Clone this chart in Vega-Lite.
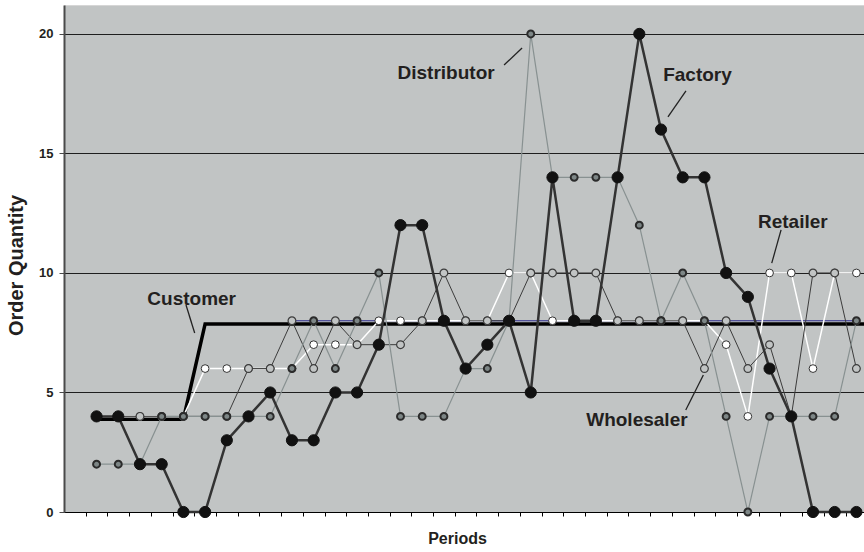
{
  "$schema": "https://vega.github.io/schema/vega-lite/v6.json",
  "width": 800,
  "height": 507,
  "autosize": {"type": "none"},
  "padding": {"left": 64, "top": 5, "right": 0, "bottom": 40},
  "background": "#ffffff",
  "config": {
    "view": {"fill": "#c1c4c4", "stroke": "#d6d6d6", "strokeWidth": 1},
    "font": "Liberation Sans"
  },
  "datasets": {
    "labels": [
      {"p": 5.38, "v": 8.9, "text": "Customer"},
      {"p": 17.1, "v": 18.37, "text": "Distributor"},
      {"p": 28.68, "v": 18.28, "text": "Factory"},
      {"p": 33.07, "v": 12.15, "text": "Retailer"},
      {"p": 25.89, "v": 3.85, "text": "Wholesaler"}
    ],
    "leaders": [
      {"p": 5.12, "v": 8.66, "p2": 5.52, "v2": 7.49},
      {"p": 19.77, "v": 18.7, "p2": 20.6, "v2": 19.41},
      {"p": 28.15, "v": 17.62, "p2": 27.32, "v2": 16.53},
      {"p": 32.53, "v": 11.8, "p2": 32.1, "v2": 10.41},
      {"p": 28.14, "v": 4.27, "p2": 28.95, "v2": 5.73}
    ]
  },
  "data": {
    "values": [
      {"p": 10, "s": "Ref", "v": 8}, {"p": 36, "s": "Ref", "v": 8},
      {"p": 1, "s": "Customer", "v": 3.88}, {"p": 2, "s": "Customer", "v": 3.88}, {"p": 3, "s": "Customer", "v": 3.88}, {"p": 4, "s": "Customer", "v": 3.88}, {"p": 5, "s": "Customer", "v": 3.88},
      {"p": 6, "s": "Customer", "v": 7.87}, {"p": 7, "s": "Customer", "v": 7.87}, {"p": 8, "s": "Customer", "v": 7.87}, {"p": 9, "s": "Customer", "v": 7.87}, {"p": 10, "s": "Customer", "v": 7.87},
      {"p": 11, "s": "Customer", "v": 7.87}, {"p": 12, "s": "Customer", "v": 7.87}, {"p": 13, "s": "Customer", "v": 7.87}, {"p": 14, "s": "Customer", "v": 7.87}, {"p": 15, "s": "Customer", "v": 7.87},
      {"p": 16, "s": "Customer", "v": 7.87}, {"p": 17, "s": "Customer", "v": 7.87}, {"p": 18, "s": "Customer", "v": 7.87}, {"p": 19, "s": "Customer", "v": 7.87}, {"p": 20, "s": "Customer", "v": 7.87},
      {"p": 21, "s": "Customer", "v": 7.87}, {"p": 22, "s": "Customer", "v": 7.87}, {"p": 23, "s": "Customer", "v": 7.87}, {"p": 24, "s": "Customer", "v": 7.87}, {"p": 25, "s": "Customer", "v": 7.87},
      {"p": 26, "s": "Customer", "v": 7.87}, {"p": 27, "s": "Customer", "v": 7.87}, {"p": 28, "s": "Customer", "v": 7.87}, {"p": 29, "s": "Customer", "v": 7.87}, {"p": 30, "s": "Customer", "v": 7.87},
      {"p": 31, "s": "Customer", "v": 7.87}, {"p": 32, "s": "Customer", "v": 7.87}, {"p": 33, "s": "Customer", "v": 7.87}, {"p": 34, "s": "Customer", "v": 7.87}, {"p": 35, "s": "Customer", "v": 7.87},
      {"p": 36, "s": "Customer", "v": 7.87}, {"p": 37, "s": "Customer", "v": 7.87},

      {"p": 1, "s": "Retailer", "v": 4}, {"p": 2, "s": "Retailer", "v": 4}, {"p": 3, "s": "Retailer", "v": 4}, {"p": 4, "s": "Retailer", "v": 4}, {"p": 5, "s": "Retailer", "v": 4},
      {"p": 6, "s": "Retailer", "v": 6}, {"p": 7, "s": "Retailer", "v": 6}, {"p": 8, "s": "Retailer", "v": 6}, {"p": 9, "s": "Retailer", "v": 6}, {"p": 10, "s": "Retailer", "v": 6},
      {"p": 11, "s": "Retailer", "v": 7}, {"p": 12, "s": "Retailer", "v": 7}, {"p": 13, "s": "Retailer", "v": 7}, {"p": 14, "s": "Retailer", "v": 8}, {"p": 15, "s": "Retailer", "v": 8},
      {"p": 16, "s": "Retailer", "v": 8}, {"p": 17, "s": "Retailer", "v": 8}, {"p": 18, "s": "Retailer", "v": 8}, {"p": 19, "s": "Retailer", "v": 8}, {"p": 20, "s": "Retailer", "v": 10},
      {"p": 21, "s": "Retailer", "v": 10}, {"p": 22, "s": "Retailer", "v": 8}, {"p": 23, "s": "Retailer", "v": 8}, {"p": 24, "s": "Retailer", "v": 8}, {"p": 25, "s": "Retailer", "v": 8},
      {"p": 26, "s": "Retailer", "v": 8}, {"p": 27, "s": "Retailer", "v": 8}, {"p": 28, "s": "Retailer", "v": 8}, {"p": 29, "s": "Retailer", "v": 8}, {"p": 30, "s": "Retailer", "v": 7},
      {"p": 31, "s": "Retailer", "v": 4}, {"p": 32, "s": "Retailer", "v": 10}, {"p": 33, "s": "Retailer", "v": 10}, {"p": 34, "s": "Retailer", "v": 6}, {"p": 35, "s": "Retailer", "v": 10},
      {"p": 36, "s": "Retailer", "v": 10},

      {"p": 1, "s": "Wholesaler", "v": 4}, {"p": 2, "s": "Wholesaler", "v": 4}, {"p": 3, "s": "Wholesaler", "v": 4}, {"p": 4, "s": "Wholesaler", "v": 4}, {"p": 5, "s": "Wholesaler", "v": 4},
      {"p": 6, "s": "Wholesaler", "v": 4}, {"p": 7, "s": "Wholesaler", "v": 4}, {"p": 8, "s": "Wholesaler", "v": 6}, {"p": 9, "s": "Wholesaler", "v": 6}, {"p": 10, "s": "Wholesaler", "v": 8},
      {"p": 11, "s": "Wholesaler", "v": 6}, {"p": 12, "s": "Wholesaler", "v": 8}, {"p": 13, "s": "Wholesaler", "v": 7}, {"p": 14, "s": "Wholesaler", "v": 7}, {"p": 15, "s": "Wholesaler", "v": 7},
      {"p": 16, "s": "Wholesaler", "v": 8}, {"p": 17, "s": "Wholesaler", "v": 10}, {"p": 18, "s": "Wholesaler", "v": 8}, {"p": 19, "s": "Wholesaler", "v": 8}, {"p": 20, "s": "Wholesaler", "v": 8},
      {"p": 21, "s": "Wholesaler", "v": 10}, {"p": 22, "s": "Wholesaler", "v": 10}, {"p": 23, "s": "Wholesaler", "v": 10}, {"p": 24, "s": "Wholesaler", "v": 10}, {"p": 25, "s": "Wholesaler", "v": 8},
      {"p": 26, "s": "Wholesaler", "v": 8}, {"p": 27, "s": "Wholesaler", "v": 8}, {"p": 28, "s": "Wholesaler", "v": 8}, {"p": 29, "s": "Wholesaler", "v": 6}, {"p": 30, "s": "Wholesaler", "v": 8},
      {"p": 31, "s": "Wholesaler", "v": 6}, {"p": 32, "s": "Wholesaler", "v": 7}, {"p": 33, "s": "Wholesaler", "v": 4}, {"p": 34, "s": "Wholesaler", "v": 10}, {"p": 35, "s": "Wholesaler", "v": 10},
      {"p": 36, "s": "Wholesaler", "v": 6},

      {"p": 1, "s": "Distributor", "v": 2}, {"p": 2, "s": "Distributor", "v": 2}, {"p": 3, "s": "Distributor", "v": 2}, {"p": 4, "s": "Distributor", "v": 4}, {"p": 5, "s": "Distributor", "v": 4},
      {"p": 6, "s": "Distributor", "v": 4}, {"p": 7, "s": "Distributor", "v": 4}, {"p": 8, "s": "Distributor", "v": 4}, {"p": 9, "s": "Distributor", "v": 4}, {"p": 10, "s": "Distributor", "v": 6},
      {"p": 11, "s": "Distributor", "v": 8}, {"p": 12, "s": "Distributor", "v": 6}, {"p": 13, "s": "Distributor", "v": 8}, {"p": 14, "s": "Distributor", "v": 10}, {"p": 15, "s": "Distributor", "v": 4},
      {"p": 16, "s": "Distributor", "v": 4}, {"p": 17, "s": "Distributor", "v": 4}, {"p": 18, "s": "Distributor", "v": 6}, {"p": 19, "s": "Distributor", "v": 6}, {"p": 20, "s": "Distributor", "v": 8},
      {"p": 21, "s": "Distributor", "v": 20}, {"p": 22, "s": "Distributor", "v": 14}, {"p": 23, "s": "Distributor", "v": 14}, {"p": 24, "s": "Distributor", "v": 14}, {"p": 25, "s": "Distributor", "v": 14},
      {"p": 26, "s": "Distributor", "v": 12}, {"p": 27, "s": "Distributor", "v": 8}, {"p": 28, "s": "Distributor", "v": 10}, {"p": 29, "s": "Distributor", "v": 8}, {"p": 30, "s": "Distributor", "v": 4},
      {"p": 31, "s": "Distributor", "v": 0}, {"p": 32, "s": "Distributor", "v": 4}, {"p": 33, "s": "Distributor", "v": 4}, {"p": 34, "s": "Distributor", "v": 4}, {"p": 35, "s": "Distributor", "v": 4},
      {"p": 36, "s": "Distributor", "v": 8},

      {"p": 1, "s": "Factory", "v": 4}, {"p": 2, "s": "Factory", "v": 4}, {"p": 3, "s": "Factory", "v": 2}, {"p": 4, "s": "Factory", "v": 2}, {"p": 5, "s": "Factory", "v": 0},
      {"p": 6, "s": "Factory", "v": 0}, {"p": 7, "s": "Factory", "v": 3}, {"p": 8, "s": "Factory", "v": 4}, {"p": 9, "s": "Factory", "v": 5}, {"p": 10, "s": "Factory", "v": 3},
      {"p": 11, "s": "Factory", "v": 3}, {"p": 12, "s": "Factory", "v": 5}, {"p": 13, "s": "Factory", "v": 5}, {"p": 14, "s": "Factory", "v": 7}, {"p": 15, "s": "Factory", "v": 12},
      {"p": 16, "s": "Factory", "v": 12}, {"p": 17, "s": "Factory", "v": 8}, {"p": 18, "s": "Factory", "v": 6}, {"p": 19, "s": "Factory", "v": 7}, {"p": 20, "s": "Factory", "v": 8},
      {"p": 21, "s": "Factory", "v": 5}, {"p": 22, "s": "Factory", "v": 14}, {"p": 23, "s": "Factory", "v": 8}, {"p": 24, "s": "Factory", "v": 8}, {"p": 25, "s": "Factory", "v": 14},
      {"p": 26, "s": "Factory", "v": 20}, {"p": 27, "s": "Factory", "v": 16}, {"p": 28, "s": "Factory", "v": 14}, {"p": 29, "s": "Factory", "v": 14}, {"p": 30, "s": "Factory", "v": 10},
      {"p": 31, "s": "Factory", "v": 9}, {"p": 32, "s": "Factory", "v": 6}, {"p": 33, "s": "Factory", "v": 4}, {"p": 34, "s": "Factory", "v": 0}, {"p": 35, "s": "Factory", "v": 0},
      {"p": 36, "s": "Factory", "v": 0}
    ]
  },
  "encoding": {
    "x": {
      "field": "p", "type": "quantitative",
      "scale": {"domain": [-0.5, 36.35], "nice": false, "zero": false},
      "axis": {
        "title": "Periods",
        "values": [0.5, 1.5, 2.5, 3.5, 4.5, 5.5, 6.5, 7.5, 8.5, 9.5, 10.5, 11.5, 12.5, 13.5, 14.5, 15.5, 16.5, 17.5, 18.5, 19.5, 20.5, 21.5, 22.5, 23.5, 24.5, 25.5, 26.5, 27.5, 28.5, 29.5, 30.5, 31.5, 32.5, 33.5, 34.5, 35.5],
        "labels": false, "ticks": true, "tickSize": 4, "tickColor": "#000000", "tickWidth": 1,
        "domainColor": "#000000", "domainWidth": 1, "grid": false,
        "titleFont": "Liberation Sans", "titleFontWeight": "bold", "titleFontSize": 16, "titleColor": "#231f20", "titlePadding": 14, "titleX": 393
      }
    },
    "y": {
      "field": "v", "type": "quantitative",
      "scale": {"domain": [0, 21.21], "nice": false},
      "axis": {
        "title": "Order Quantity",
        "values": [0, 5, 10, 15, 20],
        "grid": true, "gridColor": "#1e1e1e", "gridWidth": 1,
        "domainColor": "#4a4a4a", "domainWidth": 2,
        "tickColor": "#4a4a4a", "tickSize": 5,
        "labelFont": "Liberation Sans", "labelFontWeight": "bold", "labelFontSize": 13, "labelColor": "#231f20", "labelPadding": 6,
        "titleFont": "Liberation Sans", "titleFontWeight": "bold", "titleFontSize": 20, "titleColor": "#231f20", "titlePadding": 12, "titleY": 260
      }
    }
  },
  "layer": [
    {"transform": [{"filter": "datum.s === 'Ref'"}], "mark": {"type": "line", "color": "#2b2b8c", "strokeWidth": 1}},
    {"transform": [{"filter": "datum.s === 'Customer'"}], "mark": {"type": "line", "color": "#000000", "strokeWidth": 3.5, "clip": true, "strokeCap": "square"}},
    {"transform": [{"filter": "datum.s === 'Retailer'"}], "mark": {"type": "line", "color": "#ffffff", "strokeWidth": 1.5}},
    {"transform": [{"filter": "datum.s === 'Retailer'"}], "mark": {"type": "point", "shape": "circle", "filled": true, "fill": "#ffffff", "stroke": "#333333", "strokeWidth": 1, "size": 60, "opacity": 1}},
    {"transform": [{"filter": "datum.s === 'Wholesaler'"}], "mark": {"type": "line", "color": "#3c3c3c", "strokeWidth": 1}},
    {"transform": [{"filter": "datum.s === 'Wholesaler'"}], "mark": {"type": "point", "shape": "circle", "filled": true, "fill": "#c1c4c4", "stroke": "#3c3c3c", "strokeWidth": 1.2, "size": 60, "opacity": 1}},
    {"transform": [{"filter": "datum.s === 'Distributor'"}], "mark": {"type": "line", "color": "#889191", "strokeWidth": 1.2}},
    {"transform": [{"filter": "datum.s === 'Distributor'"}], "mark": {"type": "point", "shape": "circle", "filled": true, "fill": "#7d8686", "stroke": "#2b2b2b", "strokeWidth": 2, "size": 48, "opacity": 1}},
    {"transform": [{"filter": "datum.s === 'Factory'"}], "mark": {"type": "line", "color": "#333333", "strokeWidth": 2.5}},
    {"transform": [{"filter": "datum.s === 'Factory'"}], "mark": {"type": "point", "shape": "circle", "filled": true, "fill": "#111111", "stroke": "#111111", "strokeWidth": 1, "size": 125, "opacity": 1}},
    {"data": {"name": "leaders"}, "mark": {"type": "rule", "color": "#222222", "strokeWidth": 1.3}, "encoding": {"x2": {"field": "p2"}, "y2": {"field": "v2"}}},
    {"data": {"name": "labels"}, "mark": {"type": "text", "font": "Liberation Sans", "fontWeight": "bold", "fontSize": 19, "color": "#231f20", "align": "center", "baseline": "middle"}, "encoding": {"text": {"field": "text"}}}
  ]
}
